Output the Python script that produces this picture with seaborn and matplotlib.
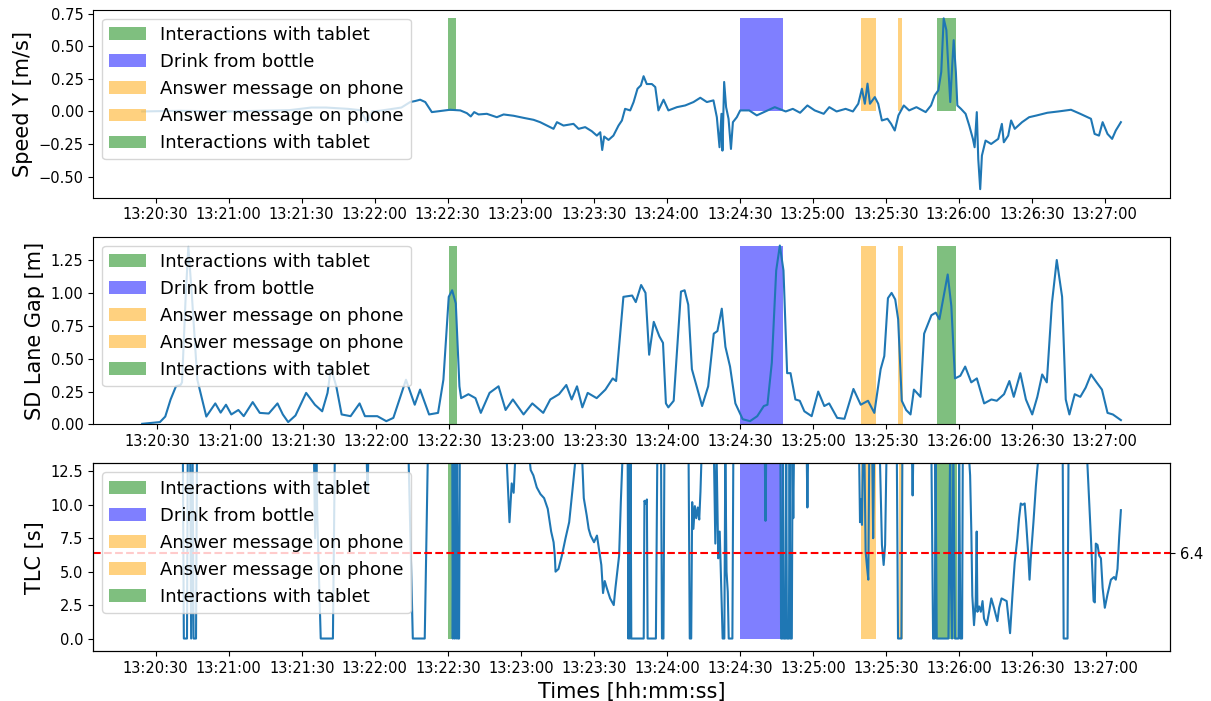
import numpy as np
import pandas as pd
import matplotlib
matplotlib.use("Agg")
import matplotlib.pyplot as plt
import matplotlib.dates as mdates
import seaborn as sns

# time in seconds after 13:20:00
base_time = pd.Timestamp("2023-01-01 13:20:00")

event_labels = ["Interactions with tablet", "Drink from bottle", "Answer message on phone",
                "Answer message on phone", "Interactions with tablet"]
event_start = [150.0, 270.0, 319.8, 335.0, 351.0]
event_end = [153.5, 287.6, 325.8, 336.8, 358.9]
event_colors = ["green", "blue", "orange", "orange", "green"]

speed_sec = [24.5, 40, 60, 85, 94, 100, 109, 114, 116.8, 119, 122, 131, 134.6, 136.7, 138.7, 140.8,
             143.5, 146.9, 151, 155.2, 157.9, 159.5, 160.9, 162.7, 166.1, 170.2, 173, 177.1, 181.2,
             185.3, 188, 190.8, 193.5, 194.9, 197.6, 201.7, 203.8, 206.5, 209.2, 211.3, 212.7, 213.5,
             214.3, 216.1, 218.1, 220.2, 221.6, 222.9, 225, 226.4, 228, 229.4, 230.5, 231.8, 233.9,
             235.3, 236.6, 238.7, 240.7, 244.2, 247.6, 251, 253.8, 256.5, 259.2, 260.6, 261.7, 262.5,
             262.9, 263.6, 264.4, 265.4, 266.4, 267.2, 268.8, 270.2, 273.9, 277, 279.9, 284.4, 288.9,
             291.8, 294.8, 297.8, 300.8, 304.5, 306.8, 309.8, 313.5, 316.5, 318.7, 320.2, 321.4, 322.5,
             323.5, 325.5, 326.9, 328.4, 330.7, 332.2, 333.7, 335.2, 337.4, 339.6, 342.6, 346.4, 348.6,
             350.1, 351.6, 352.8, 353.8, 354.9, 355.8, 356.5, 357.3, 357.9, 358.8, 359.4, 360.9, 362.8,
             364.3, 365.8, 366.5, 367.4, 368.0, 368.8, 369.5, 371, 373.3, 376.2, 377.7, 378.5, 380.3,
             381.5, 383, 386, 388.9, 391.9, 396.4, 400.9, 406.1, 409.9, 414.3, 415.8, 417.6, 419.1,
             421.1, 423, 424.5, 426.6]
speed_val = [0.0, 0.005, 0.0, 0.01, 0.03, 0.03, 0.02, 0.01, -0.08, 0.0, 0.005, 0.03, 0.072, 0.08,
             0.09, 0.072, -0.005, 0.003, 0.013, 0.008, -0.013, -0.038, -0.005, -0.023, -0.018, -0.044,
             -0.023, -0.033, -0.049, -0.064, -0.082, -0.108, -0.133, -0.082, -0.108, -0.095, -0.133,
             -0.12, -0.151, -0.185, -0.159, -0.295, -0.192, -0.218, -0.185, -0.108, -0.069, 0.02, 0.008,
             0.072, 0.174, 0.2, 0.27, 0.21, 0.21, 0.187, 0.008, 0.09, 0.008, 0.033, 0.046, 0.072, 0.105,
             0.072, 0.085, -0.044, -0.274, -0.018, -0.3, 0.226, 0.033, -0.056, -0.287, -0.082, -0.044,
             0.008, 0.008, -0.03, -0.005, 0.033, 0.0, 0.02, -0.01, 0.046, 0.008, -0.018, 0.033, 0.0,
             0.02, 0.0, 0.059, 0.174, 0.059, 0.213, 0.059, 0.11, 0.059, -0.069, -0.056, -0.095, -0.146,
             -0.03, 0.046, 0.008, 0.033, -0.005, 0.046, 0.123, 0.162, 0.303, 0.713, 0.623, 0.303, 0.072,
             0.354, 0.546, 0.303, 0.046, 0.02, -0.018, -0.108, -0.21, -0.274, -0.005, -0.364, -0.595,
             -0.338, -0.223, -0.249, -0.21, -0.095, -0.236, -0.185, -0.069, -0.133, -0.082, -0.044,
             -0.031, -0.01, 0.0, 0.013, -0.018, -0.056, -0.172, -0.185, -0.082, -0.172, -0.21, -0.146,
             -0.082]

sd_sec = [23.7, 31, 33.2, 35.4, 37.6, 39.5, 40.1, 41.6, 42.7, 44.2, 46.4, 50.1, 53.8, 56, 58.2, 60.4,
          63.3, 65.5, 69.2, 72.1, 75.8, 79.4, 81.6, 83.8, 86.8, 91.2, 94.8, 97.8, 100, 101.4, 103.6,
          105.8, 109.5, 113.2, 115.4, 120.5, 124.2, 127.1, 132.3, 135.9, 138.1, 141.8, 145.5, 147.7,
          149.9, 151.3, 152.8, 154.3, 155, 158, 160.9, 163.1, 166.7, 170.4, 173.3, 176.3, 180.7,
          184.3, 188.8, 191.7, 195.3, 198.3, 200.5, 202.7, 204.9, 207.1, 210.8, 214.4, 217.4, 218.8,
          221.8, 225.4, 226.9, 229.1, 230.9, 232.4, 234.3, 236.6, 238.1, 239.3, 240.3, 242.5, 245.5,
          247, 248.5, 250, 251.5, 254.2, 256.7, 259, 260.5, 262.3, 263.8, 265.7, 267.9, 270.9, 273.9,
          276.9, 279.6, 281.1, 282.9, 284.7, 286.2, 287.7, 289.2, 290.6, 292.6, 294.4, 296.3, 299.3,
          302, 304.5, 306.5, 309.8, 312.8, 316.5, 319.5, 322.5, 325.1, 327.7, 329.2, 330.7, 332.2,
          333.7, 334.9, 336.4, 338.2, 340, 341.4, 344.1, 345.6, 348.6, 350.4, 351.9, 353.4, 355.3,
          356.8, 358.3, 360.5, 362.5, 365, 367.3, 370.3, 373.3, 375.5, 378.5, 380.7, 382.5, 385.2,
          387.5, 390.1, 392.2, 394.2, 396.1, 398.2, 400.2, 402.4, 403.9, 405.4, 407.6, 409.9, 412.1,
          414.3, 416.6, 418.8, 421.1, 423.3, 426.6]
sd_val = [0.005, 0.018, 0.06, 0.19, 0.29, 0.30, 0.32, 0.97, 1.35, 0.97, 0.34, 0.06, 0.16, 0.09, 0.15,
          0.076, 0.11, 0.063, 0.17, 0.088, 0.083, 0.16, 0.076, 0.018, 0.068, 0.24, 0.15, 0.10, 0.24,
          0.43, 0.29, 0.076, 0.063, 0.16, 0.063, 0.063, 0.025, 0.05, 0.34, 0.15, 0.265, 0.076, 0.088,
          0.34, 0.97, 1.02, 0.92, 0.29, 0.20, 0.23, 0.20, 0.088, 0.24, 0.29, 0.11, 0.19, 0.076, 0.16,
          0.088, 0.19, 0.23, 0.30, 0.19, 0.29, 0.13, 0.24, 0.20, 0.265, 0.35, 0.33, 0.97, 0.98, 0.93,
          1.06, 1.0, 0.53, 0.78, 0.67, 0.62, 0.16, 0.13, 0.18, 1.01, 1.02, 0.91, 0.42, 0.32, 0.14,
          0.29, 0.69, 0.71, 0.88, 0.59, 0.44, 0.16, 0.04, 0.025, 0.063, 0.14, 0.15, 0.47, 1.17, 1.36,
          1.17, 0.39, 0.39, 0.19, 0.18, 0.10, 0.063, 0.25, 0.14, 0.16, 0.05, 0.043, 0.27, 0.15, 0.18,
          0.088, 0.42, 0.52, 0.96, 1.0, 0.95, 0.80, 0.18, 0.11, 0.076, 0.265, 0.21, 0.69, 0.83, 0.85,
          0.80, 0.95, 1.14, 0.90, 0.35, 0.37, 0.44, 0.32, 0.35, 0.16, 0.19, 0.18, 0.23, 0.33, 0.21,
          0.39, 0.19, 0.076, 0.21, 0.38, 0.32, 0.92, 1.25, 0.97, 0.19, 0.076, 0.23, 0.21, 0.28, 0.38,
          0.32, 0.265, 0.088, 0.076, 0.033]

# values above the plotted range are clipped by the axis limits
tlc_sec = [24.5, 41.2, 41.6, 42.9, 43.2, 44.2, 44.6, 45.2, 45.6, 46.6, 47.0, 95.0, 95.5, 96.0, 96.4,
           97.8, 102.8, 103.6, 116.6, 117.0, 117.4, 133.8, 135.6, 140.5, 141.8, 151.8, 152.0, 152.4,
           152.7, 153.1, 153.4, 153.8, 154.1, 154.6, 154.9, 174.0, 175.3, 176.2, 177.0, 177.8, 183.2,
           184.0, 185.1, 186.5, 188.0, 189.5, 191.0, 192.4, 193.4, 193.9, 194.2, 195.4, 196.8, 198.3,
           199.8, 201.2, 202.7, 205.0, 205.8, 207.0, 207.8, 208.6, 210.0, 211.2, 212.2, 213.0, 213.7,
           214.4, 215.2, 216.6, 218.1, 218.8, 220.3, 221.0, 221.8, 223.8, 224.1, 224.4, 224.7, 225.0,
           225.3, 230.4, 230.7, 231.2, 231.7, 232.0, 235.4, 236.0, 237.5, 237.9, 238.5, 238.9, 248.8,
           249.3, 249.9, 250.3, 250.8, 251.4, 252.0, 252.6, 253.2, 253.7, 254.2, 259.2, 259.8, 260.3,
           261.0, 261.6, 262.3, 262.8, 263.5, 263.9, 264.4, 264.9, 265.3, 266.8, 267.2, 280.1, 280.4,
           280.7, 286.5, 286.8, 287.3, 287.6, 287.9, 288.6, 288.9, 289.2, 290.0, 290.3, 290.6, 291.2,
           291.5, 291.8, 292.1, 297.3, 297.6, 297.9, 318.8, 319.2, 319.6, 320.0, 320.4, 321.0, 321.5,
           322.0, 322.6, 323.0, 324.2, 324.6, 325.0, 327.3, 328.2, 328.9, 329.5, 330.1, 334.3, 334.8,
           336.2, 336.6, 340.5, 340.8, 341.1, 348.5, 349.2, 349.9, 350.2, 350.7, 355.5, 355.9, 356.2,
           356.5, 357.0, 357.5, 358.2, 359.6, 359.9, 360.4, 361.1, 361.4, 363.8, 364.4, 364.9, 365.3,
           366.0, 366.7, 367.1, 367.4, 368.1, 368.8, 369.5, 370.1, 371.2, 372.2, 373.1, 374.2, 375.6,
           376.3, 377.3, 378.4, 379.4, 380.0, 380.8, 381.8, 382.7, 383.8, 384.5, 385.2, 385.9, 386.8,
           387.4, 388.2, 388.8, 389.3, 390.4, 391.4, 392.0, 392.7, 402.4, 402.8, 404.4, 404.8, 412.3,
           414.0, 415.1, 415.6, 416.0, 416.7, 417.4, 418.1, 418.8, 419.7, 420.8, 422.2, 423.5, 424.2,
           424.9, 425.6, 426.3]
tlc_val = [14.0, 14.0, 0.0, 0.0, 14.0, 14.0, 0.0, 14.0, 0.0, 0.0, 14.0, 14.0, 7.5, 14.0, 9.0,
           0.0, 0.0, 14.0, 14.0, 11.0, 14.0, 14.0, 0.0, 0.0, 14.0, 14.0, 0.0, 14.0,
           0.0, 14.0, 0.0, 14.0, 0.0, 0.0, 14.0, 14.0, 8.7, 11.6, 10.9, 14.0, 14.0,
           12.6, 12.2, 11.3, 10.8, 10.5, 9.7, 8.0, 7.2, 6.2, 5.0, 5.2, 6.2, 7.5,
           8.7, 11.2, 14.0, 14.0, 10.5, 9.2, 8.2, 7.7, 7.2, 7.7, 6.5, 5.5, 3.4,
           4.3, 3.8, 3.0, 2.5, 3.8, 6.2, 10.2, 14.0, 14.0, 0.0, 14.0, 0.0, 14.0,
           0.0, 0.0, 10.3, 10.1, 10.4, 0.0, 0.0, 14.0, 14.0, 0.0, 0.0, 14.0, 14.0,
           0.0, 0.0, 10.2, 8.2, 9.9, 9.0, 9.8, 8.9, 11.0, 14.0, 14.0, 7.1, 14.0,
           6.0, 8.0, 3.2, 0.0, 0.0, 14.0, 5.0, 3.5, 0.0, 0.0, 14.0, 14.0, 8.8,
           14.0, 14.0, 0.0, 0.0, 14.0, 0.0, 0.0, 14.0, 0.0, 0.0, 14.0, 0.0, 0.0,
           14.0, 9.0, 14.0, 14.0, 9.8, 14.0, 14.0, 8.7, 10.4, 8.5, 14.0, 14.0, 6.5,
           5.5, 4.4, 14.0, 14.0, 7.5, 14.0, 14.0, 7.0, 5.5, 7.0, 14.0, 14.0, 0.0,
           0.0, 14.0, 14.0, 10.7, 14.0, 14.0, 0.0, 0.0, 14.0, 0.0, 0.0, 9.0, 14.0,
           4.5, 0.0, 14.0, 0.0, 0.0, 14.0, 0.0, 0.0, 14.0, 14.0, 12.2, 8.0, 3.2,
           1.0, 2.8, 8.0, 2.0, 2.4, 2.0, 2.8, 1.5, 1.0, 2.0, 3.0, 2.3, 1.3,
           2.3, 3.0, 2.9, 2.8, 1.8, 0.4, 3.3, 5.7, 7.5, 9.0, 10.1, 10.0, 10.1,
           8.7, 6.5, 4.4, 6.0, 8.7, 11.4, 12.7, 14.0, 14.0, 0.0, 0.0, 14.0, 14.0,
           7.5, 2.8, 2.7, 7.1, 7.0, 6.2, 6.0, 3.8, 2.3, 3.3, 4.4, 4.6, 4.4,
           5.2, 7.6, 9.6]

tlc_threshold = 6.4
tlc_ylim = (-0.95, 13.1)


def to_time(sec):
    return base_time + pd.to_timedelta(np.asarray(sec, dtype=float), unit="s")


fig, axes = plt.subplots(3, 1, figsize=(12.11, 7.01), dpi=100)
fig.subplots_adjust(left=0.077, right=0.966, top=0.986, bottom=0.071, hspace=0.207)

panels = [
    (speed_sec, speed_val, "Speed Y [m/s]", max(speed_val)),
    (sd_sec, sd_val, "SD Lane Gap [m]", max(sd_val)),
    (tlc_sec, tlc_val, "TLC [s]", tlc_ylim[1]),
]

for ax, (sec, val, ylabel, span_top) in zip(axes, panels):
    sns.lineplot(x=to_time(sec), y=val, ax=ax, color="#1f77b4", linewidth=1.5, zorder=3)
    for start, end, label, color in zip(event_start, event_end, event_labels, event_colors):
        ax.fill_between(to_time([start, end]), 0, span_top, color=color, alpha=0.5,
                        linewidth=0, label=label, zorder=1)
    ax.set_ylabel(ylabel, fontsize=15)
    ax.set_xlabel("")
    ax.xaxis.set_major_locator(mdates.SecondLocator(bysecond=[0, 30]))
    ax.xaxis.set_major_formatter(mdates.DateFormatter("%H:%M:%S"))
    ax.tick_params(labelsize=10.5)
    ax.legend(loc="upper left", fontsize=13)

axes[1].set_ylim(bottom=0)

ax_tlc = axes[2]
ax_tlc.axhline(tlc_threshold, color="red", linestyle="--", linewidth=1.5, zorder=4)
ax_tlc.set_ylim(*tlc_ylim)
ax_tlc.set_xlabel("Times [hh:mm:ss]", fontsize=15)
ax_right = ax_tlc.twinx()
ax_right.set_ylim(*tlc_ylim)
ax_right.set_yticks([tlc_threshold])
ax_right.set_yticklabels([str(tlc_threshold)])
ax_right.tick_params(labelsize=10.5)

fig.savefig("out.png", dpi=100)
